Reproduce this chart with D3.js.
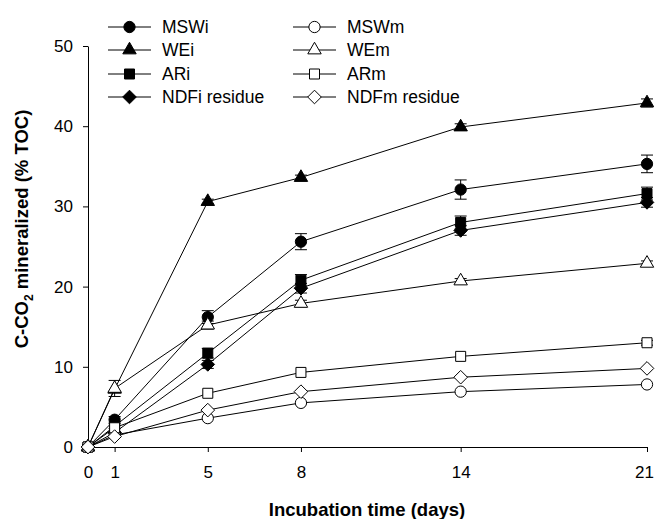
<!DOCTYPE html>
<html>
<head>
<meta charset="utf-8">
<script src="https://cdn.jsdelivr.net/npm/d3@7"></script>
<style>
  body { margin: 0; background: #fff; }
  svg { display: block; font-family: "Liberation Sans", Arial, sans-serif; }
</style>
</head>
<body>
<div id="chart"></div>
<script>
// sampling days (the "5" sampling sits at 4.5 on the axis in the original)
var days = [0, 1, 4.5, 8, 14, 21];
var dayLabels = ["0", "1", "5", "8", "14", "21"];
var yTicks = [0, 10, 20, 30, 40, 50];

var names = ["MSWi", "WEi", "ARi", "NDFi residue", "MSWm", "WEm", "ARm", "NDFm residue"];
var shapes = ["circle", "triangle", "square", "diamond", "circle", "triangle", "square", "diamond"];
var filled = [true, true, true, true, false, false, false, false];

var MSWi = [0, 3.4, 16.2, 25.6, 32.1, 35.3];
var WEi = [0, 7.2, 30.6, 33.6, 39.9, 42.9];
var ARi = [0, 2.6, 11.7, 20.8, 28.0, 31.6];
var NDFi = [0, 1.8, 10.3, 19.8, 27.0, 30.5];
var MSWm = [0, 1.5, 3.6, 5.5, 6.9, 7.8];
var WEm = [0, 7.3, 15.2, 17.9, 20.7, 22.9];
var ARm = [0, 2.4, 6.7, 9.3, 11.3, 13.0];
var NDFm = [0, 1.3, 4.6, 6.9, 8.7, 9.8];

var MSWiErr = [0, 0.4, 0.8, 1.0, 1.2, 1.1];
var WEiErr = [0, 0, 0.3, 0.3, 0.4, 0.5];
var ARiErr = [0, 0.3, 0.6, 0.7, 0.8, 0.8];
var NDFiErr = [0, 0.2, 0.5, 0.6, 0.6, 0.6];
var MSWmErr = [0, 0.1, 0.2, 0.2, 0.2, 0.2];
var WEmErr = [0, 1.0, 0.5, 0.4, 0.3, 0.3];
var ARmErr = [0, 0.1, 0.2, 0.2, 0.2, 0.3];
var NDFmErr = [0, 0.1, 0.2, 0.2, 0.2, 0.2];

var values = [MSWi, WEi, ARi, NDFi, MSWm, WEm, ARm, NDFm];
var errors = [MSWiErr, WEiErr, ARiErr, NDFiErr, MSWmErr, WEmErr, ARmErr, NDFmErr];

var W = 655, H = 519;

var svg = d3.select("#chart").append("svg")
    .attr("width", W)
    .attr("height", H);

var x = d3.scaleLinear().domain([0, 21]).range([88, 647]);
var y = d3.scaleLinear().domain([0, 50]).range([447, 46]);

// marker path for each shape
var symbolFor = function(shape) {
    if (shape == "circle") return d3.symbol(d3.symbolCircle, 100)();
    if (shape == "triangle") return d3.symbol(d3.symbolTriangle, 78)();
    if (shape == "square") return d3.symbol(d3.symbolSquare, 100)();
    // square diamond, same width and height
    return "M0,-6.8L6.8,0L0,6.8L-6.8,0Z";
};

// axes
var yAxis = svg.append("g")
    .attr("transform", "translate(88,0)")
    .call(d3.axisLeft(y).tickValues(yTicks).tickSize(5).tickSizeOuter(0).tickPadding(10));
var xAxis = svg.append("g")
    .attr("transform", "translate(0,447)")
    .call(d3.axisBottom(x).tickValues(days).tickSize(5).tickSizeOuter(0).tickPadding(14)
        .tickFormat(function(d, i) { return dayLabels[i]; }));

[yAxis, xAxis].forEach(function(a) {
    a.selectAll("text").attr("fill", "#000").style("font-size", "17px")
        .style("font-family", "'Liberation Sans', Arial, sans-serif");
    a.selectAll("line, path").attr("stroke", "#000");
});
// last label sits against the right edge
xAxis.selectAll(".tick:last-of-type text").attr("dx", -3);

// axis titles
svg.append("text")
    .attr("x", 367).attr("y", 516)
    .attr("text-anchor", "middle")
    .style("font-size", "18.5px").style("font-weight", "bold")
    .text("Incubation time (days)");

var yt = svg.append("text")
    .attr("transform", "translate(28,229) rotate(-90)")
    .attr("text-anchor", "middle")
    .style("font-size", "18.5px").style("font-weight", "bold");
yt.append("tspan").text("C-CO");
yt.append("tspan").attr("dy", 5).style("font-size", "12px").text("2");
yt.append("tspan").attr("dy", -5).text(" mineralized (% TOC)");

// lines, error bars, markers
var line = d3.line()
    .x(function(d, i) { return x(days[i]); })
    .y(function(d) { return y(d); });

var plot = svg.append("g");

values.forEach(function(vals, s) {
    plot.append("path")
        .datum(vals)
        .attr("d", line)
        .attr("fill", "none")
        .attr("stroke", "#000")
        .attr("stroke-width", 1);
});

values.forEach(function(vals, s) {
    var g = plot.append("g");
    var err = errors[s];
    vals.forEach(function(v, i) {
        if (err[i] <= 0.25) return;
        var cx = x(days[i]);
        g.append("line").attr("x1", cx).attr("x2", cx)
            .attr("y1", y(v - err[i])).attr("y2", y(v + err[i]))
            .attr("stroke", "#000");
        [v - err[i], v + err[i]].forEach(function(e) {
            g.append("line").attr("x1", cx - 6).attr("x2", cx + 6)
                .attr("y1", y(e)).attr("y2", y(e))
                .attr("stroke", "#000");
        });
    });
    g.selectAll("path.mark")
        .data(vals)
        .join("path")
        .attr("class", "mark")
        .attr("d", symbolFor(shapes[s]))
        .attr("transform", function(d, i) { return "translate(" + x(days[i]) + "," + y(d) + ")"; })
        .attr("fill", filled[s] ? "#000" : "#fff")
        .attr("stroke", "#000")
        .attr("stroke-width", 1);
});

// legend, two columns of four
var legend = svg.append("g");
var rowY = [27, 50, 74, 97];
var colX = [108, 293];

names.forEach(function(name, s) {
    var col = Math.floor(s / 4), row = s % 4;
    var lx = colX[col], ly = rowY[row];
    legend.append("line")
        .attr("x1", lx).attr("x2", lx + 43)
        .attr("y1", ly).attr("y2", ly)
        .attr("stroke", "#000");
    legend.append("path")
        .attr("d", symbolFor(shapes[s]))
        .attr("transform", "translate(" + (lx + 21.5) + "," + ly + ")")
        .attr("fill", filled[s] ? "#000" : "#fff")
        .attr("stroke", "#000");
    legend.append("text")
        .attr("x", lx + 54).attr("y", ly + 6)
        .style("font-size", "17.5px")
        .text(name);
});
</script>
</body>
</html>
